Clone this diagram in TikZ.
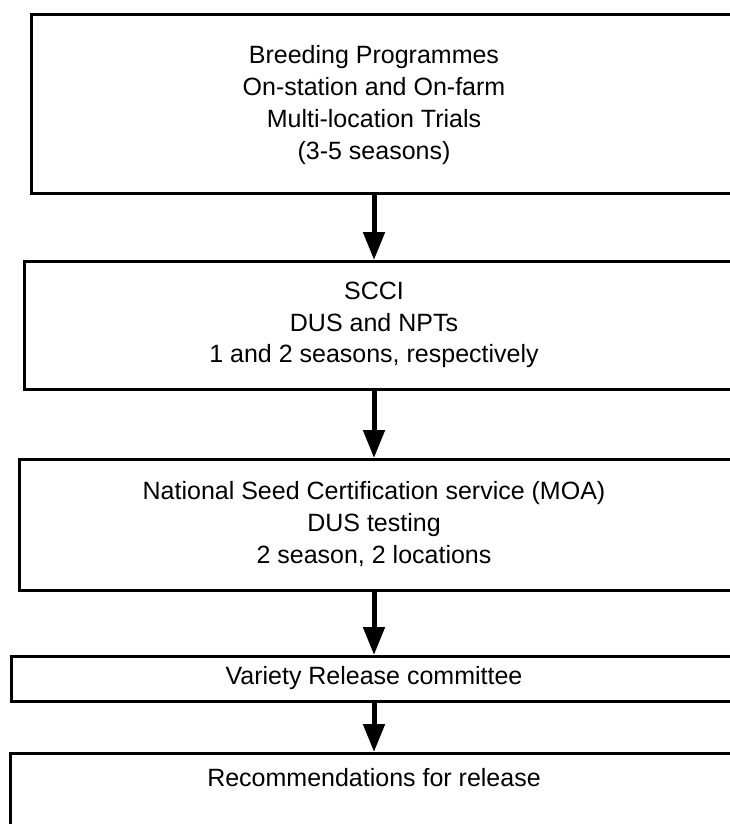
\documentclass[tikz,border=0pt]{standalone}
\usepackage{fontspec}
\setmainfont{Liberation Sans}
\usetikzlibrary{arrows.meta}
\begin{document}
\begin{tikzpicture}[x=1pt,y=-1pt,
  stagebox/.style={draw=black, line width=2.7pt, fill=white, anchor=north west,
    minimum width=760pt, inner sep=0pt},
  stagetext/.style={align=center, font=\fontsize{25}{31.7}\selectfont, inner sep=0pt},
  flow/.style={line width=5pt, -{Triangle[length=28pt,width=21pt]}}]
  % page frame
  \useasboundingbox (0,0) rectangle (729,824);
  % stage boxes (they run past the right-hand edge of the page)
  \node[stagebox, minimum height=179pt] (b1) at (30,13) {};
  \node[stagebox, minimum height=128pt] (b2) at (23,260) {};
  \node[stagebox, minimum height=131pt] (b3) at (18,458) {};
  \node[stagebox, minimum height=45pt]  (b4) at (10,655) {};
  \node[stagebox, minimum height=120pt] (b5) at (9,752) {};
  % stage texts, centred on the flow line
  \node[stagetext] (t1) at (374,105) {Breeding Programmes\\On-station and On-farm\\Multi-location Trials\\(3-5 seasons)};
  \node[stagetext] (t2) at (374,325) {SCCI\\DUS and NPTs\\1 and 2 seasons, respectively};
  \node[stagetext] (t3) at (374,524) {National Seed Certification service (MOA)\\DUS testing\\2 season, 2 locations};
  \node[stagetext] (t4) at (374,678) {Variety Release committee};
  \node[stagetext] (t5) at (374,778) {Recommendations for release};
  % connectors
  \draw[flow] (b1.south -| t1.center) -- (b2.north -| t1.center);
  \draw[flow] (b2.south -| t1.center) -- (b3.north -| t1.center);
  \draw[flow] (b3.south -| t1.center) -- (b4.north -| t1.center);
  \draw[flow] (b4.south -| t1.center) -- (b5.north -| t1.center);
\end{tikzpicture}
\end{document}
